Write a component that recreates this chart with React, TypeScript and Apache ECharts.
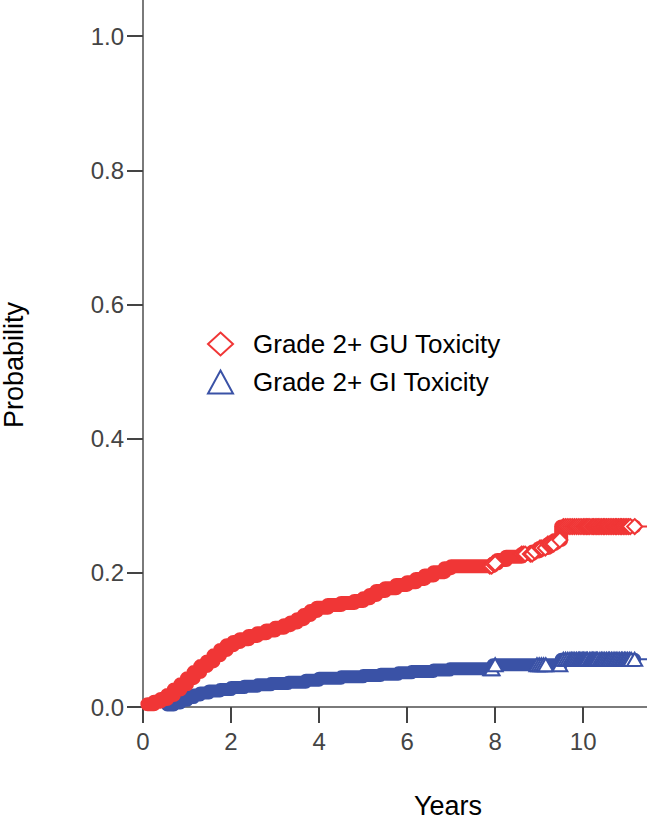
import React, { useEffect, useRef } from "react";
import * as echarts from "echarts";

// ---- data ----
const xTicks = [0, 2, 4, 6, 8, 10];
const yTicks = [0, 0.2, 0.4, 0.6, 0.8, 1.0];
const xMax = 11.45;
const yMax = 1.054;

const guName = "Grade 2+ GU Toxicity";
const giName = "Grade 2+ GI Toxicity";

// Kaplan-Meier style step curve: time (years) -> cumulative probability
const guTimes = [0, 0.1, 0.25, 0.4, 0.55, 0.7, 0.85, 1.0, 1.15, 1.3, 1.45, 1.6, 1.75, 1.9, 2.05, 2.2, 2.4, 2.6, 2.8, 3.0, 3.2, 3.35, 3.5, 3.65, 3.8, 3.95, 4.2, 4.5, 4.8, 5.0, 5.15, 5.3, 5.5, 5.75, 6.0, 6.2, 6.4, 6.6, 6.85, 7.0, 7.95, 8.05, 8.25, 8.6, 8.85, 9.0, 9.2, 9.35, 9.5];
const guProb = [0, 0.004, 0.008, 0.012, 0.018, 0.026, 0.034, 0.043, 0.052, 0.061, 0.068, 0.077, 0.085, 0.092, 0.097, 0.101, 0.106, 0.11, 0.114, 0.118, 0.122, 0.126, 0.131, 0.137, 0.143, 0.148, 0.152, 0.155, 0.158, 0.162, 0.167, 0.173, 0.177, 0.182, 0.186, 0.191, 0.196, 0.201, 0.207, 0.21, 0.214, 0.219, 0.224, 0.228, 0.232, 0.237, 0.243, 0.249, 0.269];
const guCensored = [7.88, 7.92, 7.95, 8.0, 8.6, 8.64, 8.68, 8.8, 8.84, 8.9, 9.02, 9.06, 9.14, 9.2, 9.25, 9.3, 9.33, 9.47, 9.55, 9.6, 9.65, 9.7, 9.75, 9.8, 9.85, 9.9, 9.95, 10.0, 10.04, 10.08, 10.11, 10.15, 10.2, 10.23, 10.27, 10.31, 10.34, 10.38, 10.42, 10.46, 10.49, 10.53, 10.57, 10.61, 10.65, 10.69, 10.73, 10.76, 10.8, 10.84, 10.87, 10.91, 10.95, 10.99, 11.03, 11.07, 11.17];

const giTimes = [0, 0.55, 0.7, 0.85, 1.0, 1.15, 1.3, 1.5, 1.75, 2.0, 2.3, 2.6, 2.9, 3.3, 3.7, 4.0, 4.5, 5.0, 5.4, 5.8, 6.1, 6.6, 6.97, 7.95, 9.5];
const giProb = [0, 0.003, 0.006, 0.01, 0.014, 0.018, 0.021, 0.024, 0.026, 0.029, 0.031, 0.033, 0.035, 0.037, 0.04, 0.043, 0.045, 0.047, 0.049, 0.051, 0.053, 0.055, 0.057, 0.063, 0.071];
const giCensored = [7.9, 7.93, 8.0, 8.95, 9.0, 9.05, 9.1, 9.15, 9.47, 9.55, 9.6, 9.65, 9.7, 9.74, 9.77, 9.81, 9.85, 9.89, 9.92, 9.95, 9.98, 10.01, 10.04, 10.07, 10.1, 10.15, 10.18, 10.21, 10.24, 10.27, 10.3, 10.33, 10.38, 10.42, 10.45, 10.49, 10.53, 10.57, 10.6, 10.64, 10.68, 10.72, 10.75, 10.79, 10.83, 10.87, 10.9, 10.94, 10.97, 11.01, 11.05, 11.09, 11.17];

const guBandStart = 0.1;
const giBandStart = 0.55;

// ---- helpers ----
const FONT = '"Liberation Sans", Arial, Helvetica, sans-serif';
const RED = "#f03636";
const BLUE = "#3a52a6";

function valueAt(times: number[], probs: number[], t: number) {
  let v = probs[0];
  for (let i = 0; i < times.length; i++) {
    if (times[i] <= t) v = probs[i];
  }
  return v;
}

function fullCurve(times: number[], probs: number[], end: number) {
  const d = times.map((t, i) => [t, probs[i]]);
  d.push([end, probs[probs.length - 1]]);
  return d;
}

function bandCurve(times: number[], probs: number[], start: number, end: number) {
  const d: number[][] = [[start, valueAt(times, probs, start)]];
  times.forEach((t, i) => {
    if (t > start && t <= end) d.push([t, probs[i]]);
  });
  d.push([end, valueAt(times, probs, end)]);
  return d;
}

function censorPoints(times: number[], probs: number[], cens: number[]) {
  return cens.map((t) => [t, valueAt(times, probs, t)]);
}

export default function App() {
  const ref = useRef<HTMLDivElement>(null);

  useEffect(() => {
    if (!ref.current) return;
    const chart = echarts.init(ref.current, null, { renderer: "svg" });
    const guLast = guCensored[guCensored.length - 1];
    const giLast = giCensored[giCensored.length - 1];

    chart.setOption({
      animation: false,
      backgroundColor: "#ffffff",
      textStyle: { fontFamily: FONT },
      grid: { left: 143, right: 0, top: 0, bottom: 114, containLabel: false, outerBoundsMode: "none" },
      legend: {
        orient: "vertical",
        left: 202,
        top: 326,
        itemWidth: 25,
        itemHeight: 23,
        itemGap: 12,
        selectedMode: false,
        formatter: (n: string) => `{t|${n}}`,
        textStyle: {
          fontFamily: FONT,
          rich: { t: { fontFamily: FONT, fontSize: 26, color: "#000", padding: [0, 0, 0, 15] } },
        },
        data: [
          { name: guName, icon: "diamond", itemStyle: { color: "#fff", borderColor: RED, borderWidth: 2 } },
          { name: giName, icon: "triangle", itemStyle: { color: "#fff", borderColor: BLUE, borderWidth: 2 } },
        ],
      },
      xAxis: {
        type: "value",
        min: 0,
        max: xMax,
        name: "Years",
        nameLocation: "middle",
        nameGap: 85,
        nameTextStyle: { fontFamily: FONT, fontSize: 27, color: "#000", padding: [0, 0, 0, 106] },
        axisLine: { show: true, onZero: false, lineStyle: { color: "#7a7a7a", width: 2 } },
        axisTick: { show: true, length: 16, customValues: xTicks, lineStyle: { color: "#444", width: 2 } },
        axisLabel: { customValues: xTicks, fontFamily: FONT, fontSize: 24, color: "#444", margin: 22 },
        splitLine: { show: false },
      },
      yAxis: {
        type: "value",
        min: 0,
        max: yMax,
        name: "Probability",
        nameLocation: "middle",
        nameGap: 116,
        nameRotate: 90,
        nameTextStyle: { fontFamily: FONT, fontSize: 27, color: "#000", padding: [0, 23, 0, 0] },
        axisLine: { show: true, onZero: false, lineStyle: { color: "#7a7a7a", width: 2 } },
        axisTick: { show: true, length: 16, customValues: yTicks, lineStyle: { color: "#444", width: 2 } },
        axisLabel: {
          customValues: yTicks,
          fontFamily: FONT,
          fontSize: 24,
          color: "#444",
          margin: 19,
          formatter: (v: number) => v.toFixed(1),
        },
        splitLine: { show: false },
      },
      series: [
        {
          name: "GU curve",
          type: "line",
          step: "end",
          data: fullCurve(guTimes, guProb, xMax),
          showSymbol: false,
          lineStyle: { color: RED, width: 2 },
          z: 2,
        },
        {
          name: "GI curve",
          type: "line",
          step: "end",
          data: fullCurve(giTimes, giProb, xMax),
          showSymbol: false,
          lineStyle: { color: BLUE, width: 2 },
          z: 2,
        },
        {
          name: "GI band",
          type: "line",
          step: "end",
          data: bandCurve(giTimes, giProb, giBandStart, giLast),
          showSymbol: false,
          lineStyle: { color: BLUE, width: 13, join: "round", cap: "round" },
          z: 3,
        },
        {
          name: "GU band",
          type: "line",
          step: "end",
          data: bandCurve(guTimes, guProb, guBandStart, guLast),
          showSymbol: false,
          lineStyle: { color: RED, width: 14, join: "round", cap: "round" },
          z: 3,
        },
        {
          name: giName,
          type: "scatter",
          data: censorPoints(giTimes, giProb, giCensored),
          symbol: "triangle",
          symbolSize: [15, 13],
          itemStyle: { color: "#fff", borderColor: BLUE, borderWidth: 2, opacity: 1 },
          z: 4,
        },
        {
          name: guName,
          type: "scatter",
          data: censorPoints(guTimes, guProb, guCensored),
          symbol: "diamond",
          symbolSize: [15, 15],
          itemStyle: { color: "#fff", borderColor: RED, borderWidth: 2, opacity: 1 },
          z: 4,
        },
      ],
    });

    return () => chart.dispose();
  }, []);

  return (
    <div
      ref={ref}
      style={{ position: "absolute", left: 0, top: 0, width: 647, height: 821, background: "#fff" }}
    />
  );
}
